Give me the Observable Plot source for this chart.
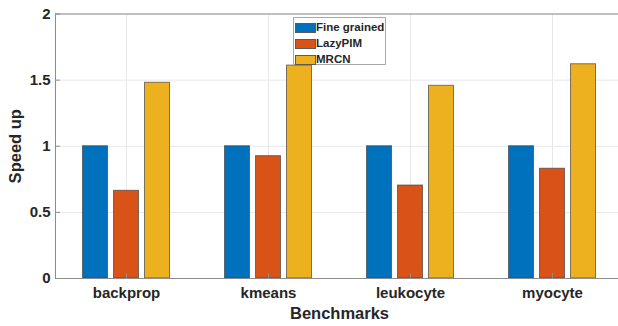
<!DOCTYPE html>
<html>
<head>
<meta charset="utf-8">
<script src="https://cdn.jsdelivr.net/npm/d3@7"></script>
<script src="https://cdn.jsdelivr.net/npm/@observablehq/plot@0.6"></script>
<style>
  html, body { margin: 0; padding: 0; background: white; }
  #wrap { position: relative; width: 618px; height: 326px; overflow: hidden; font-family: "Liberation Sans", Arial, sans-serif; }
  #wrap svg text { font-weight: bold; fill: #262626; }
  #wrap svg g[aria-label="y-axis label"] text, #wrap svg g[aria-label="fx-axis label"] text { font-size: 16.5px; }
  .legend { position: absolute; left: 292.5px; top: 16.5px; width: 91px; height: 46px; background: white; border: 1px solid #a8a8a8; }
  .legend .row { position: absolute; left: 0; height: 10px; }
  .legend .sw { position: absolute; left: 1px; top: 0; width: 19px; height: 8.5px; border: 0.8px solid #5a5a5a; }
  .legend .lab { position: absolute; left: 22.5px; top: -3px; font-size: 11.5px; font-weight: bold; color: #262626; white-space: nowrap; line-height: 14px; }
</style>
</head>
<body>
<div id="wrap"></div>
<script>
const categories = ["backprop", "kmeans", "leukocyte", "myocyte"];
const series = ["Fine grained", "LazyPIM", "MRCN"];
const fineGrained = [1, 1, 1, 1];
const lazyPIM = [0.663, 0.925, 0.703, 0.83];
const mrcn = [1.48, 1.61, 1.457, 1.62];
const yTicks = [0, 0.5, 1, 1.5, 2];
const colors = ["#0072BD", "#D95319", "#EDB120"];

const valuesBySeries = [fineGrained, lazyPIM, mrcn];
const data = categories.flatMap((c, i) =>
  series.map((s, j) => ({cat: c, series: s, value: valuesBySeries[j][i]}))
);

const axisColor = "#8c8c8c";
const gridColor = "#e8e8e8";

const chart = Plot.plot({
  width: 618,
  height: 326,
  marginTop: 13.5,
  marginBottom: 48,
  marginLeft: 54.5,
  marginRight: 0,
  style: {fontFamily: "'Liberation Sans', Arial, sans-serif", background: "white", color: "#262626"},
  fx: {domain: categories, range: [54.5, 623], padding: 0, label: "Benchmarks"},
  x: {domain: series, paddingInner: 0.19, paddingOuter: 0.845, axis: null},
  y: {domain: [0, 2], label: "Speed up"},
  color: {domain: series, range: colors},
  marks: [
    Plot.gridY(yTicks, {stroke: gridColor, strokeOpacity: 1}),
    Plot.gridFx({stroke: gridColor, strokeOpacity: 1}),
    Plot.barY(data, {fx: "cat", x: "series", y: "value", fill: "series", stroke: "#3a3a3a", strokeOpacity: 0.65, strokeWidth: 1}),
    Plot.ruleY([0, 2], {stroke: axisColor}),
    Plot.frame({anchor: "left", facetAnchor: "left", stroke: axisColor, strokeOpacity: 1}),
    Plot.axisY(yTicks, {tickSize: 0, tickPadding: 5, fontSize: 15, tickFormat: d3.format("~g"),
      label: "Speed up", labelAnchor: "center", labelArrow: "none", labelOffset: 46}),
    Plot.axisY(yTicks, {tickSize: -5, text: null, label: null, stroke: axisColor}),
    Plot.axisFx({anchor: "bottom", tickSize: 0, tickPadding: 8.5, fontSize: 15, label: "Benchmarks", labelAnchor: "center", labelOffset: 40}),
    Plot.axisFx({anchor: "bottom", tickSize: -5, text: null, label: null, stroke: axisColor})
  ]
});

const wrap = document.getElementById("wrap");
wrap.appendChild(chart);

const legend = document.createElement("div");
legend.className = "legend";
series.forEach((s, i) => {
  const row = document.createElement("div");
  row.className = "row";
  row.style.top = (5 + i * 16) + "px";
  const sw = document.createElement("div");
  sw.className = "sw";
  sw.style.background = colors[i];
  const lab = document.createElement("div");
  lab.className = "lab";
  lab.textContent = s;
  row.appendChild(sw);
  row.appendChild(lab);
  legend.appendChild(row);
});
wrap.appendChild(legend);
</script>
</body>
</html>
